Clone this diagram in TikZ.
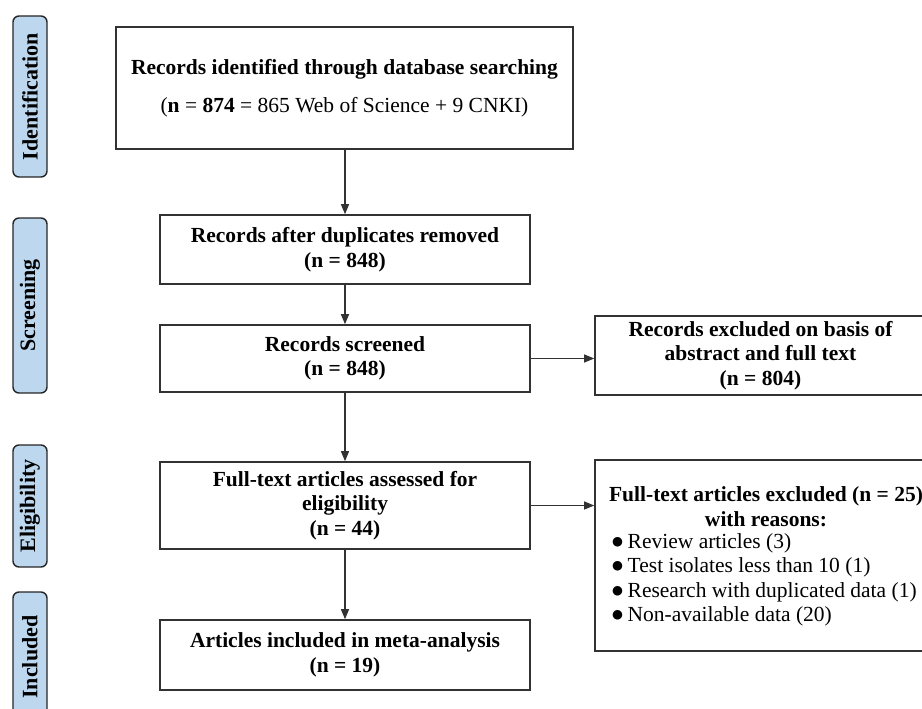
\documentclass[tikz,border=0pt]{standalone}
\usepackage{fontspec}
\setmainfont{Liberation Serif}
\newfontfamily\symfont{DejaVu Sans}
\usetikzlibrary{arrows.meta}
\definecolor{tabblue}{RGB}{189,215,238}
\definecolor{edgegray}{RGB}{50,50,50}
\newcommand{\bigbul}{\makebox[16.5pt][l]{\hspace{1pt}\raisebox{3pt}{\symfont\fontsize{12.5}{12.5}\selectfont ●}}}
\begin{document}
\begin{tikzpicture}[x=1pt,y=-1pt,
  box/.style={draw=edgegray,line width=1.6pt,fill=white,align=center,inner sep=0pt,
    font=\fontsize{21.5}{24.5}\selectfont\bfseries},
  tab/.style={draw=black!85,line width=1.4pt,fill=tabblue,rounded corners=6pt,rotate=90,
    inner sep=0pt,minimum height=34pt,font=\fontsize{22}{24.5}\selectfont\bfseries},
  arr/.style={draw=edgegray,line width=1.1pt,-{Triangle[length=10pt,width=8pt]}},
  txt/.style={inner sep=0pt,font=\fontsize{21.5}{24.5}\selectfont}]
\useasboundingbox (0,0) rectangle (922,709);
\clip (0,0) rectangle (922,709);

% side tabs
\node[tab,minimum width=161pt] (tid) at (30,96.5) {Identification};
\node[tab,minimum width=175pt] (tsc) at (30,305.5) {Screening};
\node[tab,minimum width=122pt] (tel) at (30,506) {Eligibility};
\node[tab,minimum width=130pt] (tin) at (30,657) {Included};

% main column
\node[box,minimum width=457pt,minimum height=122pt] (b1) at (344.5,88)
  {Records identified through database searching\\[14pt]
   {\mdseries(\textbf{n} = \textbf{874} = 865 Web of Science + 9 CNKI)}};
\node[box,minimum width=370pt,minimum height=69pt] (b2) at (345,249.5)
  {Records after duplicates removed\\(n = 848)};
\node[box,minimum width=370pt,minimum height=67pt] (b3) at (345,358.5)
  {Records screened\\(n = 848)};
\node[box,minimum width=370pt,minimum height=87pt] (b4) at (345,505.5)
  {Full-text articles assessed for\\eligibility\\(n = 44)};
\node[box,minimum width=370pt,minimum height=70pt] (b5) at (345,655)
  {Articles included in meta-analysis\\(n = 19)};

% right column
\node[box,minimum width=331pt,minimum height=79pt] (r1) at (760.5,355.5)
  {Records excluded on basis of\\abstract and full text\\(n = 804)};
\node[box,minimum width=342pt,minimum height=191pt] (r2) at (766,555.5) {};
\node[txt,align=center,font=\fontsize{21.5}{24.5}\selectfont\bfseries] (r2t) at (766,506.5)
  {Full-text articles excluded (n = 25)\\with reasons:};
\node[txt,align=left,anchor=west] (r2l) at (611,580)
  {\bigbul Review articles (3)\\
   \bigbul Test isolates less than 10 (1)\\
   \bigbul Research with duplicated data (1)\\
   \bigbul Non-available data (20)};

% connectors
\draw[arr] (b2.north |- b1.south) -- (b2.north);
\draw[arr] (b2) -- (b3);
\draw[arr] (b3) -- (b4);
\draw[arr] (b4) -- (b5);
\draw[arr] (b3.east) -- (b3.east -| r1.west);
\draw[arr] (b4.east) -- (b4.east -| r2.west);
\end{tikzpicture}
\end{document}
